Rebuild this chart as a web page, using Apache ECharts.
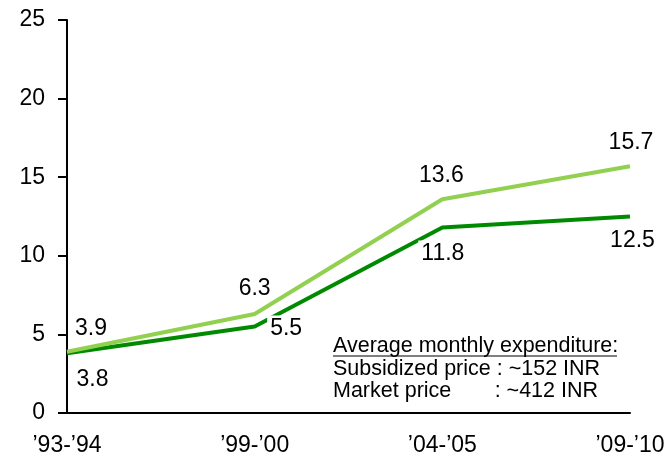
<!DOCTYPE html>
<html><head><meta charset="utf-8">
<script src="https://cdn.jsdelivr.net/npm/echarts@6/dist/echarts.min.js"></script>
<style>html,body{margin:0;padding:0;background:#fff}#c{width:668px;height:463px}</style>
</head><body><div id="c"></div>
<script>
var categories = ["’93-’94", "’99-’00", "’04-’05", "’09-’10"];
var marketPrice = [3.9, 6.3, 13.6, 15.7];
var subsidizedPrice = [3.8, 5.5, 11.8, 12.5];
var noteLines = ["Average monthly expenditure:", "Subsidized price : ~152 INR", "Market price", ": ~412 INR"];

var chart = echarts.init(document.getElementById('c'), null, {renderer: 'canvas'});
var FONT = '"Liberation Sans", Arial, sans-serif';
var FS = 23;
var marketOffsets = [[24, -23], [0, -25], [-1, -24], [1, -24]];
var subsidizedOffsets = [[24, 26], [30, 2], [-1, 26], [1, 24]];
function layoutFrom(offs) {
  return function (p) { var o = offs[p.dataIndex]; return {dx: o[0], dy: o[1]}; };
}
chart.setOption({
  animation: false,
  backgroundColor: '#fff',
  grid: {left: 67, right: 38, top: 20, bottom: 50},
  xAxis: {
    type: 'category', data: categories, boundaryGap: false,
    axisLine: {lineStyle: {color: '#000', width: 2}},
    axisTick: {show: false},
    axisLabel: {color: '#000', fontSize: FS, fontFamily: FONT, margin: 21},
    splitLine: {show: false}
  },
  yAxis: {
    type: 'value', min: 0, max: 25, interval: 5,
    axisLine: {show: true, lineStyle: {color: '#000', width: 2}},
    axisTick: {show: true, length: 9, lineStyle: {color: '#000', width: 2}},
    axisLabel: {color: '#000', fontSize: FS, fontFamily: FONT, margin: 22},
    splitLine: {show: false}
  },
  series: [
    {
      name: 'Market price', type: 'line', data: marketPrice,
      symbol: 'circle', symbolSize: 1, showSymbol: true,
      itemStyle: {color: 'rgba(0,0,0,0)', borderWidth: 0},
      lineStyle: {color: '#92D050', width: 4}, z: 3,
      label: {show: true, position: 'inside', color: '#000', fontSize: FS, fontFamily: FONT,
        formatter: function(p){return p.value.toFixed(1);}},
      labelLayout: layoutFrom(marketOffsets)
    },
    {
      name: 'Subsidized price', type: 'line', data: subsidizedPrice,
      symbol: 'circle', symbolSize: 1, showSymbol: true,
      itemStyle: {color: 'rgba(0,0,0,0)', borderWidth: 0},
      lineStyle: {color: '#008A00', width: 4}, z: 2,
      label: {show: true, position: 'inside', color: '#000', fontSize: FS, fontFamily: FONT,
        backgroundColor: '#fff', padding: [3, 0, 0, 3],
        formatter: function(p){return p.value.toFixed(1);}},
      labelLayout: layoutFrom(subsidizedOffsets)
    }
  ],
  graphic: [
    {type: 'text', x: 333, y: 346, style: {text: noteLines[0], font: '21.5px ' + FONT, fill: '#000', verticalAlign: 'middle'}},
    {type: 'line', shape: {x1: 333, y1: 356, x2: 617, y2: 356}, style: {stroke: '#000', lineWidth: 1.2}},
    {type: 'text', x: 333, y: 369, style: {text: noteLines[1], font: '21.5px ' + FONT, fill: '#000', verticalAlign: 'middle'}},
    {type: 'text', x: 333, y: 391, style: {text: noteLines[2], font: '21.5px ' + FONT, fill: '#000', verticalAlign: 'middle'}},
    {type: 'text', x: 598, y: 391, style: {text: noteLines[3], font: '21.5px ' + FONT, fill: '#000', verticalAlign: 'middle', align: 'right'}}
  ]
});
</script></body></html>
